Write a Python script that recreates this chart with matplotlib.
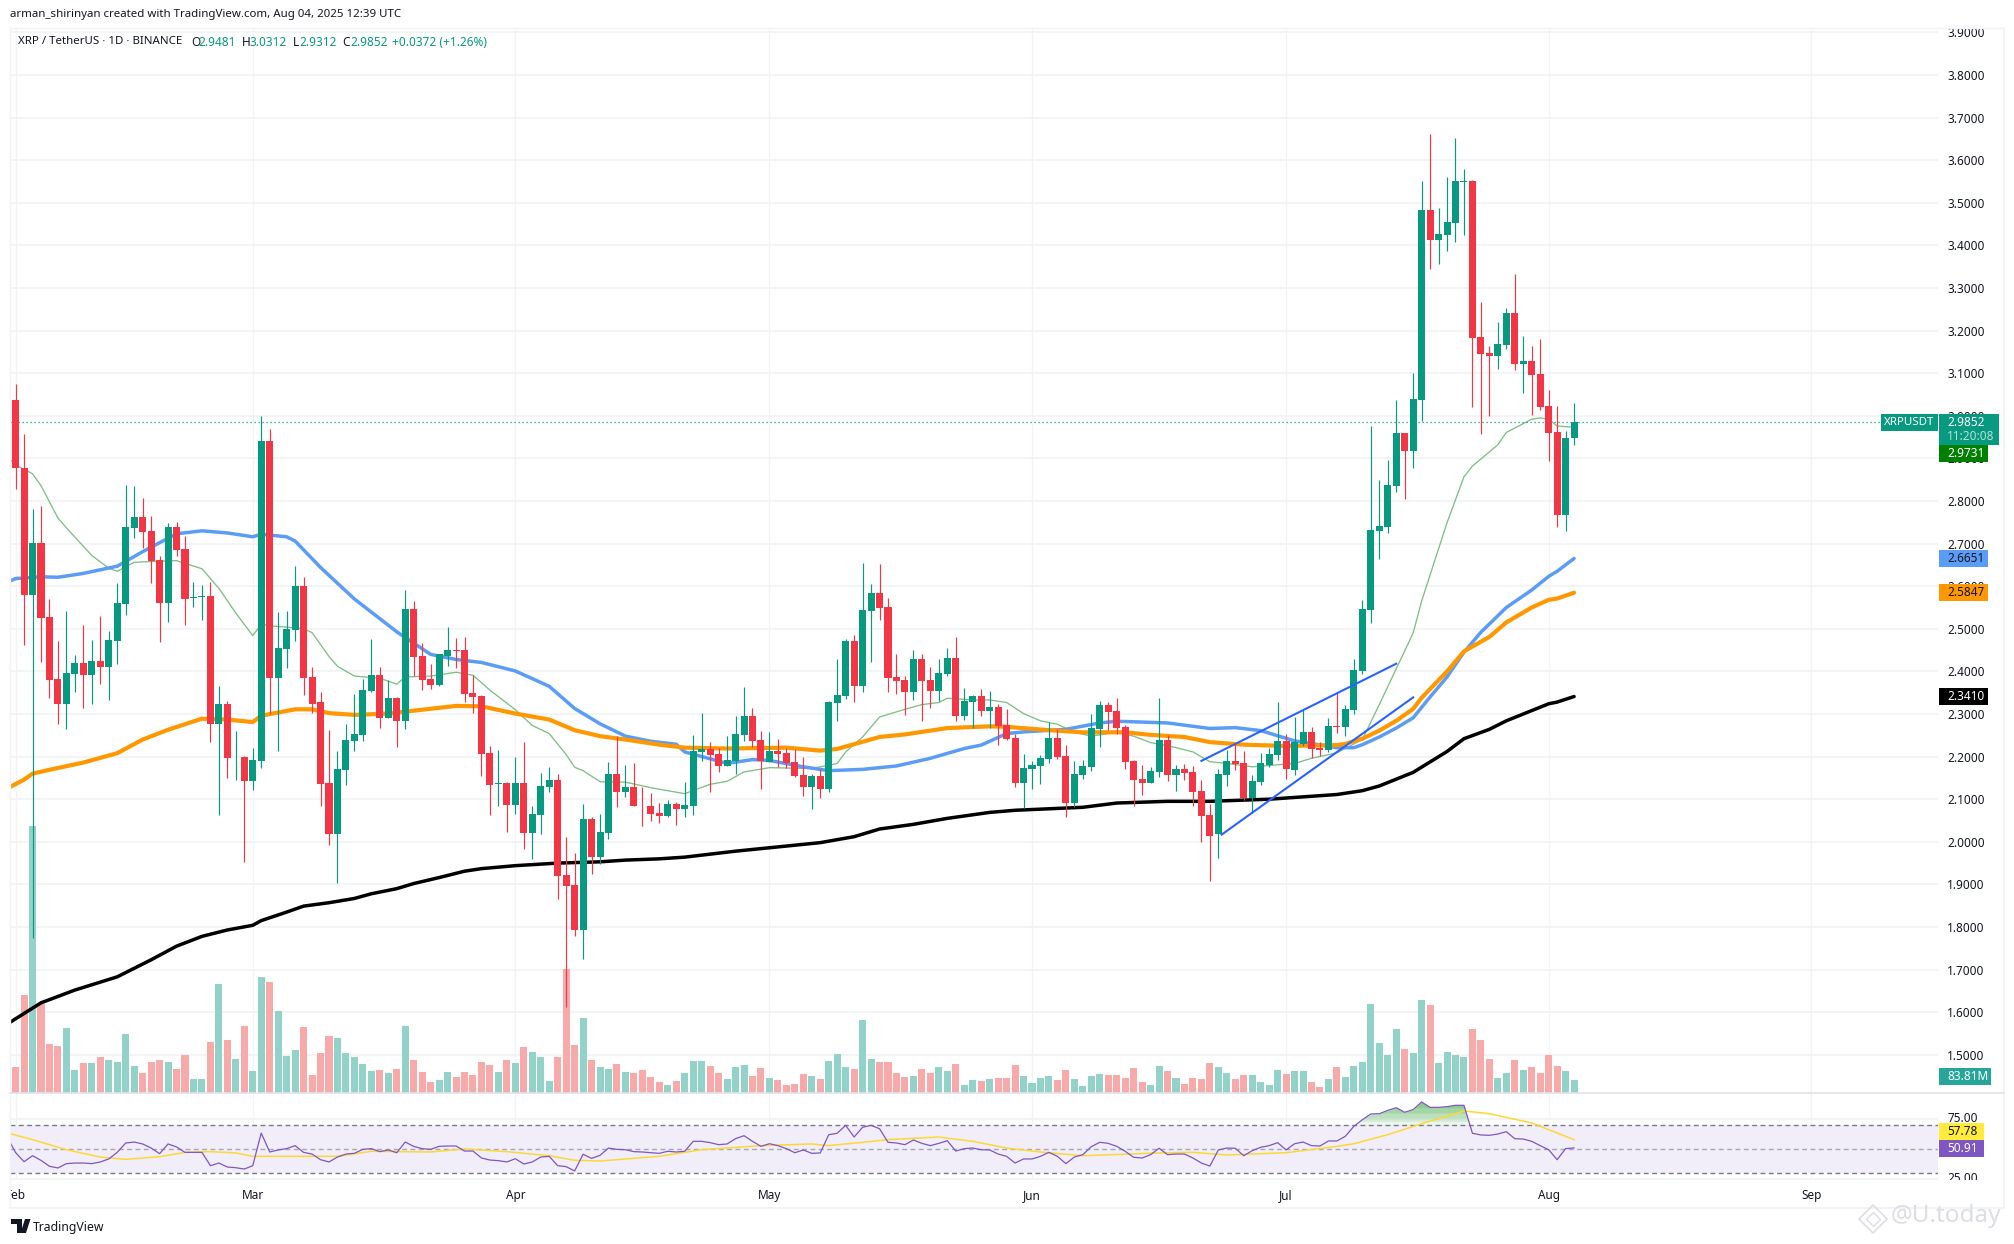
import numpy as np
import matplotlib
matplotlib.use("Agg")
import matplotlib.pyplot as plt
from matplotlib.lines import Line2D
from matplotlib.patches import Rectangle, Polygon
from matplotlib.transforms import Affine2D, Bbox, TransformedBbox, blended_transform_factory

plt.rcParams['font.family'] = ['Noto Sans', 'DejaVu Sans']

# candle direction, G = up, R = down
candle_dir = ("RRGRRRGGRG" "RGGGGRRRGR" "RGGRGRGRGG" "RGGGRRRRGG" "GGGRGRGRRR"
              "GGRRRRRGRG" "RGGGRRRGRG" "GRGRRRRGRG" "GGRRGGGRRG" "RRRRGRGGGR"
              "GGRRRRGRRG" "GRGGRGRRRG" "GGGRRGGGGR" "RRRRGGRGRR" "RRGGRRGGGG"
              "RGGRRGRGGG" "GGGGRGGRGG" "GGRRRGGRGR" "RRRGG")

highs = [3.075,2.957,2.781,2.788,2.570,2.471,2.542,2.439,2.509,2.474,
         2.531,2.496,2.607,2.838,2.835,2.807,2.764,2.670,2.749,2.750,
         2.718,2.610,2.603,2.610,2.366,2.331,2.259,2.201,2.221,3.000,
         2.968,2.540,2.542,2.648,2.622,2.411,2.352,2.263,2.213,2.276,
         2.347,2.381,2.476,2.411,2.379,2.340,2.591,2.566,2.467,2.417,
         2.441,2.505,2.479,2.481,2.391,2.344,2.226,2.215,2.140,2.199,
         2.235,2.083,2.162,2.175,2.160,2.012,1.974,2.089,2.059,2.066,
         2.187,2.248,2.181,2.185,2.129,2.114,2.090,2.098,2.093,2.140,
         2.250,2.302,2.235,2.220,2.248,2.295,2.363,2.314,2.260,2.257,
         2.241,2.220,2.217,2.199,2.159,2.171,2.330,2.429,2.477,2.485,
         2.654,2.605,2.652,2.572,2.440,2.389,2.450,2.440,2.410,2.429,
         2.455,2.480,2.361,2.344,2.358,2.354,2.323,2.311,2.253,2.206,
         2.189,2.203,2.281,2.264,2.227,2.189,2.192,2.300,2.330,2.328,
         2.337,2.274,2.192,2.180,2.175,2.337,2.250,2.180,2.182,2.178,
         2.145,2.088,2.170,2.215,2.227,2.213,2.156,2.208,2.220,2.328,
         2.253,2.293,2.311,2.269,2.234,2.290,2.351,2.322,2.429,2.567,
         2.976,2.849,2.896,3.037,2.959,3.100,3.551,3.661,3.487,3.561,
         3.652,3.580,3.553,3.267,3.163,3.220,3.253,3.333,3.188,3.163,
         3.180,3.061,3.022,2.964,3.0312]

body_top = [3.038,2.878,2.701,2.701,2.528,2.382,2.396,2.420,2.420,2.425,
            2.425,2.474,2.560,2.739,2.763,2.763,2.730,2.661,2.739,2.739,
            2.687,2.574,2.577,2.577,2.324,2.324,2.199,2.199,2.192,2.941,
            2.941,2.455,2.500,2.600,2.600,2.387,2.327,2.138,2.172,2.239,
            2.253,2.356,2.391,2.391,2.338,2.338,2.546,2.546,2.436,2.382,
            2.441,2.451,2.451,2.451,2.350,2.342,2.209,2.138,2.138,2.138,
            2.138,2.066,2.132,2.146,2.146,1.923,1.899,2.054,2.054,2.022,
            2.160,2.160,2.129,2.129,2.085,2.085,2.068,2.089,2.088,2.086,
            2.213,2.217,2.217,2.206,2.192,2.253,2.295,2.295,2.239,2.213,
            2.213,2.208,2.187,2.156,2.154,2.154,2.328,2.344,2.471,2.471,
            2.544,2.584,2.584,2.551,2.387,2.379,2.429,2.429,2.379,2.396,
            2.431,2.431,2.330,2.342,2.342,2.316,2.316,2.274,2.243,2.173,
            2.180,2.196,2.243,2.243,2.201,2.159,2.178,2.267,2.321,2.321,
            2.307,2.269,2.189,2.147,2.166,2.239,2.239,2.170,2.170,2.163,
            2.119,2.063,2.159,2.189,2.189,2.185,2.142,2.185,2.206,2.236,
            2.236,2.234,2.257,2.257,2.220,2.271,2.271,2.312,2.404,2.546,
            2.732,2.741,2.838,2.959,2.959,3.040,3.483,3.483,3.427,3.455,
            3.551,3.552,3.551,3.186,3.148,3.169,3.241,3.241,3.129,3.129,
            3.099,3.023,2.962,2.948,2.9852]

body_bottom = [2.878,2.580,2.580,2.526,2.380,2.324,2.324,2.394,2.391,2.391,
               2.411,2.411,2.471,2.558,2.737,2.727,2.660,2.560,2.560,2.685,
               2.570,2.572,2.575,2.277,2.277,2.197,2.198,2.143,2.143,2.190,
               2.385,2.385,2.453,2.497,2.385,2.324,2.136,2.019,2.019,2.169,
               2.237,2.251,2.353,2.291,2.291,2.284,2.284,2.434,2.380,2.368,
               2.368,2.435,2.448,2.347,2.340,2.207,2.134,2.136,2.087,2.087,
               2.021,2.021,2.064,2.129,1.920,1.897,1.793,1.793,1.965,1.965,
               2.021,2.117,2.117,2.083,2.083,2.066,2.061,2.061,2.077,2.077,
               2.084,2.210,2.203,2.178,2.178,2.189,2.250,2.236,2.189,2.187,
               2.206,2.185,2.154,2.128,2.128,2.124,2.124,2.325,2.342,2.365,
               2.365,2.541,2.548,2.384,2.377,2.351,2.351,2.377,2.354,2.354,
               2.394,2.295,2.295,2.328,2.307,2.307,2.271,2.241,2.138,2.138,
               2.170,2.178,2.194,2.199,2.091,2.091,2.156,2.175,2.264,2.304,
               2.267,2.187,2.145,2.138,2.138,2.163,2.156,2.156,2.161,2.117,
               2.060,2.013,2.018,2.156,2.182,2.102,2.102,2.140,2.180,2.203,
               2.170,2.168,2.229,2.217,2.215,2.215,2.270,2.270,2.309,2.401,
               2.544,2.730,2.739,2.836,2.917,2.917,3.037,3.413,3.413,3.425,
               3.453,3.549,3.182,3.145,3.141,3.141,3.167,3.122,3.122,3.095,
               3.021,2.959,2.767,2.767,2.9481]

lows = [2.828,2.461,1.774,2.422,2.338,2.277,2.265,2.352,2.313,2.324,
        2.370,2.333,2.417,2.532,2.713,2.690,2.608,2.469,2.515,2.670,
        2.509,2.551,2.521,2.235,2.064,2.150,2.146,1.952,2.122,2.174,
        2.299,2.214,2.407,2.471,2.345,2.303,2.084,1.993,1.903,2.134,
        2.213,2.237,2.352,2.266,2.291,2.223,2.265,2.389,2.356,2.359,
        2.366,2.412,2.409,2.328,2.303,2.155,2.062,2.084,2.024,2.066,
        1.983,1.960,2.018,2.116,1.865,1.612,1.778,1.724,1.925,1.948,
        2.006,2.081,2.104,2.083,2.036,2.050,2.045,2.059,2.040,2.059,
        2.063,2.190,2.117,2.163,2.178,2.159,2.236,2.222,2.124,2.187,
        2.175,2.173,2.152,2.107,2.077,2.102,2.117,2.283,2.335,2.328,
        2.351,2.422,2.520,2.351,2.347,2.297,2.333,2.283,2.314,2.330,
        2.389,2.283,2.286,2.267,2.295,2.267,2.227,2.239,2.128,2.079,
        2.124,2.135,2.185,2.194,2.058,2.081,2.147,2.166,2.222,2.262,
        2.253,2.171,2.084,2.110,2.138,2.152,2.142,2.119,2.145,2.084,
        2.000,1.908,1.962,2.131,2.168,2.098,2.067,2.133,2.175,2.192,
        2.147,2.156,2.225,2.196,2.201,2.210,2.255,2.249,2.299,2.395,
        2.513,2.665,2.726,2.821,2.805,2.877,2.987,3.345,3.356,3.387,
        3.408,3.425,3.021,2.957,3.000,3.110,3.157,3.108,3.054,3.002,
        3.013,2.895,2.739,2.730,2.9312]

# volume in millions
volumes = [166,618,1678,561,310,297,411,147,191,191,
           228,210,197,373,172,128,197,210,197,153,
           241,90,90,323,687,335,216,423,140,731,
           700,517,235,272,417,115,253,360,348,253,
           228,184,140,147,128,153,423,210,134,71,
           84,134,103,134,115,197,178,134,210,191,
           291,260,228,78,228,781,304,473,210,166,
           153,184,134,128,147,103,71,52,78,128,
           203,203,172,128,90,166,178,109,159,96,
           84,52,59,122,109,90,203,247,166,153,
           461,216,197,197,128,103,109,153,128,166,
           140,184,52,84,78,90,96,96,178,109,
           65,96,109,84,147,90,46,109,122,115,
           115,96,159,71,52,172,140,96,59,96,
           90,191,166,128,90,115,115,71,52,147,
           122,140,140,71,40,90,166,103,172,197,
           561,316,241,404,279,253,587,555,191,260,
           241,228,404,335,216,96,128,210,147,166,
           128,241,172,140,83.81]

# moving averages, read at day numbers (day 0 = 1 Feb)
blue_x = [-1,0,3,5,8,12,15,19,22,25,28,29,32,33,36,40,45,49,52,55,59,63,66,69,72,75,78,79,
          84,87,89,93,96,100,104,108,112,114,117,119,124,128,130,136,141,144,147,151,
          156,158,159,161,163,165,167,169,171,173,176,179,181,182,184]
blue_y = [2.609,2.618,2.622,2.621,2.630,2.647,2.681,2.723,2.730,2.725,2.716,2.722,2.716,2.706,
          2.644,2.570,2.493,2.440,2.428,2.421,2.401,2.365,2.313,2.277,2.248,2.236,2.229,2.211,
          2.184,2.193,2.191,2.176,2.167,2.170,2.178,2.196,2.219,2.227,2.254,2.258,2.264,2.279,
          2.283,2.279,2.266,2.268,2.261,2.237,2.221,2.221,2.228,2.246,2.267,2.291,2.340,2.387,
          2.445,2.492,2.550,2.591,2.623,2.635,2.6651]

orange_x = [-1,1,2,4,8,12,15,18,22,25,28,29,33,35,37,40,44,48,52,55,59,63,66,69,72,76,
            79,84,91,95,97,102,105,110,115,117,122,126,131,134,138,141,145,150,156,157,
            159,161,163,165,166,169,171,174,176,179,181,182,184]
orange_y = [2.125,2.146,2.160,2.169,2.186,2.208,2.240,2.263,2.289,2.287,2.281,2.296,2.311,2.311,
            2.302,2.298,2.301,2.310,2.319,2.318,2.301,2.287,2.262,2.248,2.240,2.228,2.221,2.219,
            2.221,2.214,2.218,2.246,2.252,2.267,2.271,2.270,2.262,2.257,2.257,2.251,2.246,2.234,
            2.228,2.225,2.227,2.230,2.242,2.261,2.284,2.312,2.338,2.400,2.447,2.481,2.515,2.550,
            2.568,2.571,2.5847]

black_x = [-1,3,7,12,16,19,22,25,28,29,32,34,37,40,42,45,47,50,53,55,59,64,69,72,76,79,85,95,
           99,102,106,110,115,118,126,130,136,141,148,156,159,161,165,169,171,174,176,179,181,182,184]
black_y = [1.572,1.622,1.652,1.683,1.723,1.755,1.778,1.793,1.804,1.815,1.835,1.849,1.857,1.867,
           1.878,1.890,1.902,1.916,1.931,1.937,1.944,1.950,1.953,1.957,1.960,1.964,1.978,1.998,
           2.012,2.030,2.041,2.055,2.069,2.074,2.081,2.091,2.095,2.095,2.100,2.111,2.120,2.131,
           2.163,2.212,2.242,2.264,2.284,2.308,2.324,2.328,2.341]

green_x = [-1,0,2,3,5,6,9,11,12,14,16,19,22,24,26,28,29,30,32,34,35,37,38,40,43,45,46,49,52,54,
           56,59,61,63,65,66,67,69,72,75,79,82,84,86,89,94,97,98,100,102,105,107,109,110,113,115,
           117,119,121,123,125,127,130,132,134,137,139,141,143,146,151,153,156,159,161,165,166,169,
           171,172,175,176,179,180,181,182,184]
green_y = [2.904,2.885,2.864,2.836,2.760,2.737,2.672,2.642,2.635,2.656,2.658,2.660,2.641,2.595,
           2.537,2.484,2.511,2.507,2.504,2.500,2.491,2.435,2.412,2.389,2.384,2.370,2.387,2.389,
           2.398,2.391,2.356,2.310,2.273,2.254,2.205,2.175,2.167,2.141,2.140,2.127,2.113,2.135,
           2.142,2.164,2.174,2.172,2.184,2.211,2.246,2.293,2.311,2.322,2.327,2.337,2.333,2.333,
           2.327,2.301,2.284,2.276,2.257,2.248,2.257,2.248,2.233,2.221,2.211,2.188,2.184,2.176,
           2.184,2.196,2.209,2.240,2.322,2.490,2.565,2.749,2.857,2.882,2.932,2.961,2.992,2.995,
           2.992,2.976,2.9731]

# hand drawn channel
channel_upper_x = [140, 163]
channel_upper_y = [2.190, 2.418]
channel_lower_x = [142.4, 165]
channel_lower_y = [2.017, 2.339]

rsi_values = [60.0,47.0,39.4,44.4,40.5,35.6,34.2,37.8,38.3,38.3,37.8,
              39.2,41.7,47.2,55.0,55.8,54.2,50.8,46.1,54.2,51.7,
              47.2,47.2,47.2,36.1,38.3,35.0,34.4,33.3,36.1,63.3,
              47.5,49.2,50.3,52.8,47.2,45.8,41.1,39.2,43.3,45.8,
              46.4,49.7,50.3,47.8,49.2,46.9,55.8,52.2,50.3,49.7,
              52.2,52.5,52.5,48.3,48.3,42.5,40.8,40.3,39.2,41.9,
              37.5,39.2,43.3,43.9,36.1,35.3,31.7,45.6,42.2,44.7,
              50.8,49.7,49.4,47.8,47.5,46.9,46.4,48.1,47.5,48.1,
              56.4,56.4,55.3,53.6,54.2,58.6,61.1,56.4,52.2,54.4,
              52.8,50.3,46.9,49.2,46.4,46.7,61.9,63.1,69.7,60.0,
              68.1,69.7,66.9,55.6,55.0,53.6,57.5,54.7,52.8,54.7,
              56.9,48.3,50.3,50.8,49.4,49.2,45.8,43.9,38.3,41.7,
              41.7,43.9,47.2,43.9,37.8,43.3,45.3,51.9,55.6,54.7,
              52.2,48.1,43.1,42.5,45.3,50.6,45.3,45.8,45.8,42.5,
              38.3,35.8,49.2,50.8,50.6,44.4,48.6,51.4,52.8,55.3,
              49.2,54.4,55.8,52.8,52.5,56.7,56.7,60.6,68.9,74.4,
              79.2,79.4,82.2,84.4,80.6,82.8,89.2,84.7,84.7,85.3,
              86.4,86.4,63.1,61.7,61.4,62.5,64.4,58.6,58.3,56.4,
              52.8,49.4,41.1,50.3,50.91]

rsi_ma_x = [-1,2,6,10,13,17,20,23,26,28,34,38,42,49,53,58,63,66,69,76,81,88,94,96,100,103,109,113,116,
            117,121,126,135,139,143,150,156,158,162,166,171,174,179,184]
rsi_ma_y = [63.5,57.8,49.4,43.3,41.4,43.6,47.2,47.8,46.7,43.9,43.9,43.9,48.1,47.5,50.0,47.8,44.4,40.6,
            40.0,43.9,49.4,52.8,54.2,52.8,55.6,57.8,60.0,56.4,52.2,50.8,47.5,44.4,46.7,47.2,45.0,46.9,
            52.2,54.4,61.9,71.1,81.7,79.4,71.7,57.78]

month_days = [0, 28, 59, 89, 120, 150, 181, 212]
month_names = ["Feb", "Mar", "Apr", "May", "Jun", "Jul", "Aug", "Sep"]
price_ticks = [1.5,1.6,1.7,1.8,1.9,2.0,2.1,2.2,2.3,2.4,2.5,2.6,2.7,2.8,2.9,3.0,3.1,3.2,3.3,3.4,3.5,3.6,3.7,3.8,3.9]

UP = "#089981"
DOWN = "#f23645"
UP_VOL = "#92d2c8"
DOWN_VOL = "#f8a9a9"
GRID = "#f2f3f5"
BORDER = "#e0e3eb"
TEXT = "#131722"
TICK_SIZE = 8.5

W, H = 2014, 1244
LEFT, RIGHT = 9.5, 1938.0
MAIN_TOP, MAIN_BOTTOM, RSI_BOTTOM, DATE_BOTTOM = 28.0, 1093.0, 1180.0, 1208.0
DAY0_PX, DAY_PX = 15.6, 8.47
VOL_PER_PX = 6.285


def rect(left, top, right, bottom):
    return [left / W, 1 - bottom / H, (right - left) / W, (bottom - top) / H]


def fx(px):
    return px / W


def fy(px):
    return 1 - px / H


fig = plt.figure(figsize=(W / 100, H / 100), dpi=100, facecolor="white")
xlim = ((LEFT - DAY0_PX) / DAY_PX, (RIGHT - DAY0_PX) / DAY_PX)

# price pane
ax = fig.add_axes(rect(LEFT, MAIN_TOP, RIGHT, MAIN_BOTTOM))
ax.set_xlim(*xlim)
ax.set_ylim(2.8 - (MAIN_BOTTOM - 501) / 426, 2.8 + (501 - MAIN_TOP) / 426)
for s in ax.spines.values():
    s.set_visible(False)
ax.set_xticks([])
ax.yaxis.tick_right()
ax.set_yticks(price_ticks)
ax.set_yticklabels(["%.4f" % p for p in price_ticks])
ax.tick_params(axis="y", length=0, pad=6.5, labelsize=TICK_SIZE, labelcolor=TEXT)
ax.set_axisbelow(True)
for p in price_ticks:
    ax.axhline(p, color=GRID, lw=1.3, zorder=0)
for d in month_days:
    ax.axvline(d, color=GRID, lw=0.9, zorder=0)

days = np.arange(len(highs))
is_up = np.array([c == "G" for c in candle_dir])
colors = np.where(is_up, UP, DOWN)
vol_colors = np.where(is_up, UP_VOL, DOWN_VOL)

# volume sits on the same pane but on its own scale
vol_top = (MAIN_BOTTOM - MAIN_TOP) * VOL_PER_PX
vol_trans = blended_transform_factory(ax.transData, Affine2D().scale(1, 1 / vol_top) + ax.transAxes)
ax.bar(days, volumes, width=0.83, color=vol_colors, transform=vol_trans, zorder=1)

ax.plot(black_x, black_y, color="#000000", lw=2.5, zorder=3, solid_capstyle="round")
ax.plot(green_x, green_y, color="#7fbf86", lw=0.95, zorder=3)
ax.plot(blue_x, blue_y, color="#5b9cf6", lw=2.5, zorder=3, solid_capstyle="round")
ax.plot(orange_x, orange_y, color="#ff9800", lw=3.0, zorder=3.1, solid_capstyle="round")

ax.vlines(days, lows, highs, colors=colors, lw=0.85, zorder=4)
ax.bar(days, np.array(body_top) - np.array(body_bottom), bottom=body_bottom, width=0.83,
       color=colors, zorder=4.1)

ax.plot(channel_upper_x, channel_upper_y, color="#2962ff", lw=1.5, zorder=5)
ax.plot(channel_lower_x, channel_lower_y, color="#2962ff", lw=1.5, zorder=5)

last_close = body_top[-1]
tag_frac = (1881 - LEFT) / (RIGHT - LEFT)
ax.plot([xlim[0], xlim[0] + (xlim[1] - xlim[0]) * tag_frac], [last_close, last_close],
        color=UP, lw=0.9, ls=(0, (1, 2.2)), zorder=3.5)

# rsi pane
ax_rsi = fig.add_axes(rect(LEFT, MAIN_BOTTOM, RIGHT, RSI_BOTTOM))
ax_rsi.set_xlim(*xlim)
ax_rsi.set_ylim(50 - (RSI_BOTTOM - 1149) / 1.2, 50 + (1149 - MAIN_BOTTOM) / 1.2)
for s in ax_rsi.spines.values():
    s.set_visible(False)
ax_rsi.set_xticks([])
ax_rsi.set_yticks([])
for d in month_days:
    ax_rsi.axvline(d, color=GRID, lw=0.9, zorder=0)
ax_rsi.axhline(75, color=GRID, lw=1.3, zorder=0)
ax_rsi.axhline(25, color=GRID, lw=1.3, zorder=0)
ax_rsi.axhspan(30, 70, color="#f1edf9", lw=0, zorder=0.5)
ax_rsi.axhline(70, color="#787b86", lw=1.0, ls=(0, (3.5, 2.5)), zorder=1)
ax_rsi.axhline(50, color="#a8a8b4", lw=1.0, ls=(0, (3.5, 2.5)), zorder=1)
ax_rsi.axhline(30, color="#787b86", lw=1.0, ls=(0, (3.5, 2.5)), zorder=1)

rsi_x = np.arange(-1, len(highs))
rsi_arr = np.array(rsi_values)
for level, alpha in [(70, 0.10), (73, 0.14), (76, 0.18), (80, 0.22), (84, 0.25)]:
    ax_rsi.fill_between(rsi_x, level, rsi_arr, where=rsi_arr >= level, interpolate=True,
                        color="#4caf50", alpha=alpha, lw=0, zorder=1.5)
ax_rsi.plot(rsi_ma_x, rsi_ma_y, color="#fdd835", lw=1.1, zorder=2)
ax_rsi.plot(rsi_x, rsi_values, color="#7e57c2", lw=0.9, zorder=3)

# pixel clip so 25.00 gets cut by the pane edge like on the site
rsi_clip = TransformedBbox(Bbox([[0, 0], [1.05, 1]]), ax_rsi.transAxes)
for level in [75, 25]:
    t = ax_rsi.text(1 + 9 / (RIGHT - LEFT), level, "%.2f" % level, fontsize=TICK_SIZE, color=TEXT,
                    va="center", ha="left",
                    transform=blended_transform_factory(ax_rsi.transAxes, ax_rsi.transData),
                    zorder=2)
    t.set_clip_box(rsi_clip)
    t.set_clip_on(True)

# date row
ax_date = fig.add_axes(rect(LEFT, RSI_BOTTOM, RIGHT, DATE_BOTTOM))
ax_date.set_xlim(*xlim)
ax_date.set_ylim(0, 1)
ax_date.axis("off")
for d, name in zip(month_days, month_names):
    ax_date.text(d, 0.46, name, ha="center", va="center", fontsize=TICK_SIZE, color=TEXT, clip_on=True)


def badge(axis, y, label, bg, fg, right=1988, height=17, sub=None):
    tr = blended_transform_factory(axis.transAxes, axis.transData)
    per_px = (axis.get_ylim()[1] - axis.get_ylim()[0]) / axis.get_window_extent().height
    x0 = 1 + 1 / (RIGHT - LEFT)
    w = (right - RIGHT - 1) / (RIGHT - LEFT)
    full = height if sub is None else height + 14
    top_y = y + 8.5 * per_px
    axis.add_patch(Rectangle((x0, top_y - full * per_px), w, full * per_px, transform=tr, color=bg,
                             lw=0, clip_on=False, zorder=20))
    axis.text(1 + 9 / (RIGHT - LEFT), y, label, transform=tr, color=fg, fontsize=TICK_SIZE, va="center",
              ha="left", clip_on=False, zorder=21)
    if sub is not None:
        axis.text(1 + 9 / (RIGHT - LEFT), y - 14.5 * per_px, sub, transform=tr, color="#b5e0d8",
                  fontsize=TICK_SIZE, va="center", ha="left", clip_on=False, zorder=21)


badge(ax, 2.6651, "2.6651", "#5b9cf6", TEXT)
badge(ax, 2.5847, "2.5847", "#ff9800", TEXT)
badge(ax, 2.3410, "2.3410", "#000000", "white")
badge(ax, 2.9110, "2.9731", "#008000", "white")
badge(ax, last_close, "2.9852", UP, "white", right=1999, sub="11:20:08")
badge(ax, 1.4490, "83.81M", "#26a69a", "white", right=1991)
badge(ax_rsi, 64.6, "57.78", "#ffeb3b", TEXT, right=1984)
badge(ax_rsi, 50.4, "50.91", "#7e57c2", "white", right=1984)

# symbol tag left of the price badge
ax.add_patch(Rectangle(((1881 - LEFT) / (RIGHT - LEFT), last_close - 8.5 / 426), 57 / (RIGHT - LEFT), 17 / 426,
                       transform=blended_transform_factory(ax.transAxes, ax.transData),
                       color=UP, lw=0, clip_on=False, zorder=20))
ax.text((1909.5 - LEFT) / (RIGHT - LEFT), last_close, "XRPUSDT", color="white", fontsize=8.3, ha="center",
        va="center", transform=blended_transform_factory(ax.transAxes, ax.transData), zorder=21)

# header texts
fig.text(fx(10), fy(15), "arman_shirinyan created with TradingView.com, Aug 04, 2025 12:39 UTC",
         fontsize=8.27, color=TEXT, va="center")
fig.text(fx(17.5), fy(42), "XRP / TetherUS \u00b7 1D \u00b7 BINANCE", fontsize=8.25, color=TEXT, va="center")
for px, s, c in [(191, "O", TEXT), (198.6, "2.9481", UP), (241.8, "H", TEXT), (250, "3.0312", UP),
                 (293, "L", TEXT), (299, "2.9312", UP), (342, "C", TEXT), (350, "2.9852", UP),
                 (392, "+0.0372 (+1.26%)", UP)]:
    fig.text(fx(px), fy(42), s, fontsize=8.5, color=c, va="center")

# frame around the panes
for (x0, y0, x1, y1, c, lw) in [(LEFT, MAIN_TOP, 2004, MAIN_TOP, GRID, 1.0),
                                (LEFT, MAIN_TOP, LEFT, DATE_BOTTOM, GRID, 1.0),
                                (2004, MAIN_TOP, 2004, DATE_BOTTOM, GRID, 1.4),
                                (LEFT, MAIN_BOTTOM, 2004, MAIN_BOTTOM, BORDER, 1.2),
                                (LEFT, DATE_BOTTOM, 2004, DATE_BOTTOM, GRID, 1.4)]:
    fig.add_artist(Line2D([fx(x0), fx(x1)], [fy(y0), fy(y1)], color=c, lw=lw))

# TradingView logo and name
for pts in [[(11, 1219), (22, 1219), (22, 1233), (16.5, 1233), (16.5, 1223.5), (11, 1223.5)],
            [(26, 1233), (20.5, 1233), (25, 1219), (30.5, 1219)]]:
    fig.add_artist(Polygon([(fx(a), fy(b)) for a, b in pts], closed=True, color=TEXT, lw=0,
                           transform=fig.transFigure))
fig.text(fx(33), fy(1227), "TradingView", fontsize=8.8, color=TEXT, va="center")

# watermark
for size, lw in [(20, 1.2), (10, 1.0)]:
    fig.add_artist(Line2D([fx(1873)], [fy(1219)], marker="D", markersize=size * 0.7, mfc="none",
                          mec="#dcdee3", mew=lw, ls="none"))
fig.text(fx(1891), fy(1216), "@U.today", fontsize=17.5, color="#dcdee3", va="center")

fig.savefig("out.png", dpi=100, facecolor="white")
